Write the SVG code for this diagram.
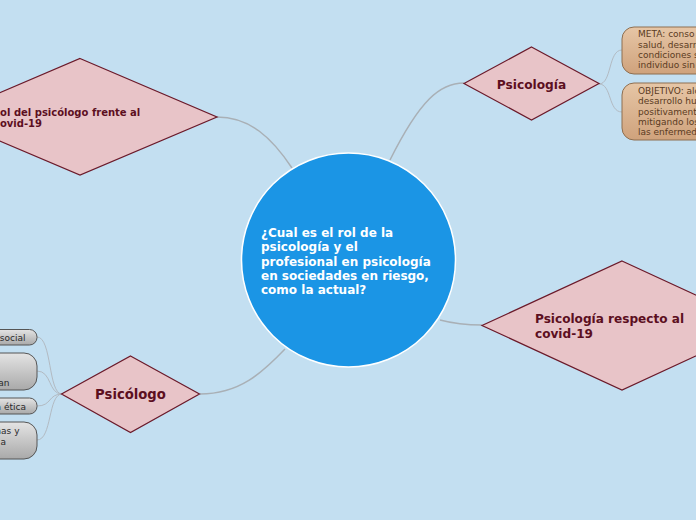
<svg xmlns="http://www.w3.org/2000/svg" width="696" height="520" viewBox="0 0 696 520">
<defs>
<linearGradient id="gTan" x1="0" y1="0" x2="0" y2="1">
<stop offset="0" stop-color="#e6c6a6"/>
<stop offset="1" stop-color="#cfa27c"/>
</linearGradient>
<linearGradient id="gGray" x1="0" y1="0" x2="0" y2="1">
<stop offset="0" stop-color="#e4e4e4"/>
<stop offset="1" stop-color="#a9a9a9"/>
</linearGradient>
</defs>
<style>
.dia{fill:#e8c4c8;stroke:#6b1a2a;stroke-width:1.2}
.dt{font-family:"DejaVu Sans",Verdana,sans-serif;font-weight:bold;fill:#5c0f1f}
.ct{font-family:"DejaVu Sans",Verdana,sans-serif;font-weight:bold;fill:#ffffff;font-size:12px}
.tan{fill:url(#gTan);stroke:#8d6e50;stroke-width:1}
.tt{font-family:"DejaVu Sans",Verdana,sans-serif;font-size:9px;fill:#5a3b22}
.gry{fill:url(#gGray);stroke:#555555;stroke-width:1}
.gt{font-family:"DejaVu Sans",Verdana,sans-serif;font-size:9px;fill:#2a2a2a}
.c1{fill:none;stroke:#a9b0b6;stroke-width:1.5}
.c2{fill:none;stroke:#b2bac2;stroke-width:1}
</style>
<rect width="696" height="520" fill="#c3dff1"/>
<g id="connectors">
<path class="c1" d="M390,160 C420,100 440,83 464,83"/>
<path class="c1" d="M217,117 C250,117 272,138 292,168"/>
<path class="c1" d="M200,394 C240,394 263,372 285,349"/>
<path class="c1" d="M440,320 C455,324 468,325 482,325"/>
<path class="c2" d="M599,84 C612,84 608,50 622,50"/>
<path class="c2" d="M599,84 C612,84 608,112 622,112"/>
<path class="c2" d="M62,394 C48,394 52,337 37,337"/>
<path class="c2" d="M62,394 C48,394 52,371 37,371"/>
<path class="c2" d="M62,394 C48,394 52,406 37,406"/>
<path class="c2" d="M62,394 C48,394 52,440 37,440"/>
</g>
<g id="center">
<circle cx="348.5" cy="260" r="107" fill="#1b95e5" stroke="#ffffff" stroke-width="1.5"/>
<text class="ct" x="261" y="237">¿Cual es el rol de la</text>
<text class="ct" x="261" y="251.3">psicología y el</text>
<text class="ct" x="261" y="265.6">profesional en psicología</text>
<text class="ct" x="261" y="279.9">en sociedades en riesgo,</text>
<text class="ct" x="261" y="294.2">como la actual?</text>
</g>
<g id="psicologia">
<polygon class="dia" points="531.5,47 599,83.5 531.5,120 464,83.5"/>
<text class="dt" x="531.5" y="88.5" font-size="12.2" text-anchor="middle">Psicología</text>
</g>
<g id="meta">
<rect class="tan" x="622" y="27" width="100" height="47" rx="12"/>
<text class="tt" x="638" y="37.3">META: conso</text>
<text class="tt" x="638" y="47.6">salud, desarr</text>
<text class="tt" x="638" y="57.9">condiciones s</text>
<text class="tt" x="638" y="68.2">individuo sin</text>
</g>
<g id="objetivo">
<rect class="tan" x="622" y="83" width="100" height="57" rx="12"/>
<text class="tt" x="638" y="94">OBJETIVO: alc</text>
<text class="tt" x="638" y="104.3">desarrollo hum</text>
<text class="tt" x="638" y="114.6">positivamente</text>
<text class="tt" x="638" y="124.9">mitigando los</text>
<text class="tt" x="638" y="135.2">las enfermeda</text>
</g>
<g id="respecto">
<polygon class="dia" points="622,261 762,325.5 622,390 482,325.5"/>
<text class="dt" x="535" y="323.3" font-size="12.1">Psicología respecto al</text>
<text class="dt" x="535" y="338.3" font-size="12.1">covid-19</text>
</g>
<g id="rol">
<polygon class="dia" points="80,58.5 217,117 80,175 -57,117"/>
<text class="dt" x="-7.6" y="115.7" font-size="10">Rol del psicólogo frente al</text>
<text class="dt" x="-7.4" y="126.8" font-size="10">Covid-19</text>
</g>
<g id="psicologo">
<polygon class="dia" points="130.5,356 199.5,394 130.5,432.5 61.5,394"/>
<text class="dt" x="130.5" y="399" font-size="13.2" text-anchor="middle">Psicólogo</text>
</g>
<g id="p1">
<rect class="gry" x="-40" y="329.5" width="77" height="15.5" rx="7.5"/>
<text class="gt" x="25.5" y="341" text-anchor="end">social</text>
</g>
<g id="p2">
<rect class="gry" x="-40" y="353" width="77" height="37" rx="13"/>
<text class="gt" x="9.5" y="385.5" text-anchor="end">an</text>
</g>
<g id="p3">
<rect class="gry" x="-40" y="398" width="77" height="16" rx="7.5"/>
<text class="gt" x="26" y="410" text-anchor="end">a ética</text>
</g>
<g id="p4">
<rect class="gry" x="-40" y="422" width="77" height="37" rx="13"/>
<text class="gt" x="19.5" y="433.5" text-anchor="end">mas y</text>
<text class="gt" x="6" y="444.5" text-anchor="end">a</text>
</g>
</svg>
